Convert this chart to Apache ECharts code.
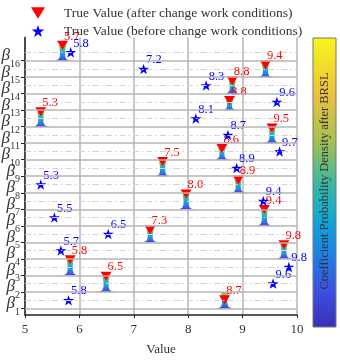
<!DOCTYPE html>
<html>
<head>
<meta charset="utf-8">
<script src="https://cdn.jsdelivr.net/npm/echarts@6/dist/echarts.min.js"></script>
<style>
  html, body { margin: 0; padding: 0; background: #fff; }
  #chart { width: 340px; height: 361px; }
</style>
</head>
<body>
<div id="chart"></div>
<script>
// rows beta_1 .. beta_16
var betaIndex = [1, 2, 3, 4, 5, 6, 7, 8, 9, 10, 11, 12, 13, 14, 15, 16];
// true value after change of work conditions (red triangles)
var afterVals = [8.67, 6.49, 5.83, 9.76, 7.30, 9.40, 7.96, 8.92, 7.53, 8.62, 9.54, 5.29, 8.76, 8.81, 9.42, 5.69];
// true value before change of work conditions (blue stars)
var beforeVals = [5.80, 9.56, 9.85, 5.66, 6.53, 5.54, 9.38, 5.29, 8.89, 9.68, 8.73, 8.14, 9.63, 8.33, 7.18, 5.84];
// height of the triangle above its row line (density at true value)
var triangleRise = [0.52, 0.95, 0.95, 0.86, 0.74, 0.99, 0.93, 0.77, 0.90, 0.68, 0.92, 0.90, 0.58, 0.77, 0.74, 0.93];
// peak of the density curve above its row line
var densityPeak = [0.98, 0.97, 0.97, 0.89, 0.77, 1.01, 0.95, 0.80, 0.92, 0.71, 0.94, 0.92, 0.61, 0.80, 0.77, 0.95];

var serif = '"Liberation Serif", "DejaVu Serif", serif';
var triPath = 'path://M0,0L12,0L6,10Z';
var starPath = 'path://M50,0L61.8,36.2L100,36.2L69.1,58.8L80.9,95.1L50,72.6L19.1,95.1L30.9,58.8L0,36.2L38.2,36.2Z';

// half widths (px) of the density profile at relative heights
var profile = [[0, 8.5], [0.04, 5.5], [0.12, 3.6], [0.3, 2.6], [0.6, 2.5], [0.85, 3.2], [1, 3.6]];

var chart = echarts.init(document.getElementById('chart'));

function densityItem(params, api) {
  var x = api.value(0), base = api.value(1), h = api.value(2);
  var left = [], right = [];
  profile.forEach(function (p) {
    var pt = api.coord([x, base + h * p[0]]);
    left.push([pt[0] - p[1], pt[1]]);
    right.unshift([pt[0] + p[1], pt[1]]);
  });
  return {
    type: 'polygon',
    shape: { points: left.concat(right) },
    style: {
      fill: new echarts.graphic.LinearGradient(0, 1, 0, 0, [
        { offset: 0, color: '#4a40d8' },
        { offset: 0.3, color: '#2a82ea' },
        { offset: 0.6, color: '#12b8c8' },
        { offset: 0.85, color: '#70c070' },
        { offset: 1, color: '#f0b030' }
      ])
    }
  };
}

// y axis labels: italic beta with a subscript index
function betaLabel(params, api) {
  var k = api.value(1);
  var pt = api.coord([api.value(0), k]);
  var sub = String(k);
  var right = pt[0] - 5;
  var subW = sub.length * 5;
  return {
    type: 'group',
    children: [
      {
        type: 'text',
        x: right,
        y: pt[1] + 3.5,
        style: { text: sub, font: '10px ' + serif, fill: '#333', align: 'right', verticalAlign: 'middle' }
      },
      {
        type: 'text',
        x: right - subW,
        y: pt[1] - 5,
        style: { text: 'β', font: 'italic 17px ' + serif, fill: '#333', align: 'right', verticalAlign: 'middle' }
      }
    ]
  };
}

chart.setOption({
  animation: false,
  legend: {
    orient: 'vertical',
    left: 26,
    top: 1,
    itemWidth: 14,
    itemHeight: 12,
    itemGap: 4,
    data: ['True Value (after change work conditions)', 'True Value (before change work conditions)'],
    textStyle: { fontFamily: serif, fontSize: 13.5, color: '#333', padding: [0, 0, 0, 14] }
  },
  grid: { left: 25, right: 43, top: 37.5, bottom: 34 },
  xAxis: {
    type: 'value',
    min: 5,
    max: 10,
    interval: 1,
    name: 'Value',
    nameLocation: 'middle',
    nameGap: 28,
    nameTextStyle: { fontFamily: serif, fontSize: 13, color: '#333' },
    axisLine: { lineStyle: { color: '#222', width: 1.5 } },
    axisTick: { show: true, length: 3, lineStyle: { color: '#222' } },
    axisLabel: { fontFamily: serif, fontSize: 13, color: '#333', margin: 8 },
    splitLine: { show: true, lineStyle: { color: '#b4b4b4', width: 1.5 } }
  },
  yAxis: {
    type: 'value',
    min: 0.6,
    max: 17.4,
    axisLine: { show: true, lineStyle: { color: '#222', width: 1.5 } },
    axisTick: { show: true, length: 4, customValues: betaIndex, lineStyle: { color: '#222' } },
    splitLine: { show: false },
    axisLabel: { show: false }
  },
  graphic: [
    {
      type: 'rect',
      shape: { x: 313, y: 38, width: 23, height: 289 },
      style: {
        fill: new echarts.graphic.LinearGradient(0, 0, 0, 1, [
          { offset: 0, color: '#f8f41c' },
          { offset: 0.2, color: '#ecc23c' },
          { offset: 0.36, color: '#a4c052' },
          { offset: 0.5, color: '#3cb8a0' },
          { offset: 0.62, color: '#12a8d2' },
          { offset: 0.75, color: '#1c80e8' },
          { offset: 0.88, color: '#3c4ee0' },
          { offset: 1, color: '#3a2fb8' }
        ]),
        stroke: '#777',
        lineWidth: 1
      }
    },
    {
      type: 'text',
      x: 324.5,
      y: 181,
      rotation: Math.PI / 2,
      style: {
        text: 'Coefficient Probability Density after BRSL',
        font: '12.5px ' + serif,
        fill: '#333',
        align: 'center',
        verticalAlign: 'middle'
      }
    }
  ],
  series: [
    {
      type: 'line',
      data: [],
      silent: true,
      z: 1,
      markLine: {
        silent: true,
        symbol: 'none',
        label: { show: false },
        lineStyle: { color: '#b4b4b4', width: 1.5, type: 'solid' },
        data: betaIndex.map(function (k) { return { yAxis: k }; })
      }
    },
    {
      type: 'line',
      data: [],
      silent: true,
      z: 1,
      markLine: {
        silent: true,
        symbol: 'none',
        label: { show: false },
        lineStyle: { color: '#d4d4d4', width: 1.2, type: [6, 3, 1.5, 3] },
        data: betaIndex.map(function (k) { return { yAxis: k + 0.5 }; })
      }
    },
    {
      type: 'custom',
      z: 5,
      silent: true,
      clip: false,
      renderItem: betaLabel,
      data: betaIndex.map(function (k) { return [5, k]; })
    },
    {
      type: 'custom',
      z: 2,
      silent: true,
      renderItem: densityItem,
      data: afterVals.map(function (v, i) { return [v, betaIndex[i], densityPeak[i]]; })
    },
    {
      name: 'True Value (after change work conditions)',
      type: 'scatter',
      z: 3,
      symbol: triPath,
      symbolSize: [11, 9],
      itemStyle: { color: '#ff0000', opacity: 1 },
      label: {
        show: true,
        position: 'right',
        distance: 0,
        offset: [-4, -9],
        fontFamily: serif,
        fontSize: 12.5,
        color: '#ff0000',
        formatter: function (p) { return p.value[0].toFixed(1); }
      },
      data: afterVals.map(function (v, i) { return [v, betaIndex[i] + triangleRise[i]]; })
    },
    {
      name: 'True Value (before change work conditions)',
      type: 'scatter',
      z: 4,
      symbol: starPath,
      symbolSize: [11, 10.5],
      itemStyle: { color: '#0000ff', opacity: 1 },
      label: {
        show: true,
        position: 'right',
        distance: 0,
        offset: [-3, -9],
        fontFamily: serif,
        fontSize: 12.5,
        color: '#0000ff',
        formatter: function (p) { return p.value[0].toFixed(1); }
      },
      data: beforeVals.map(function (v, i) { return [v, betaIndex[i] + 0.5]; })
    }
  ]
});
</script>
</body>
</html>
